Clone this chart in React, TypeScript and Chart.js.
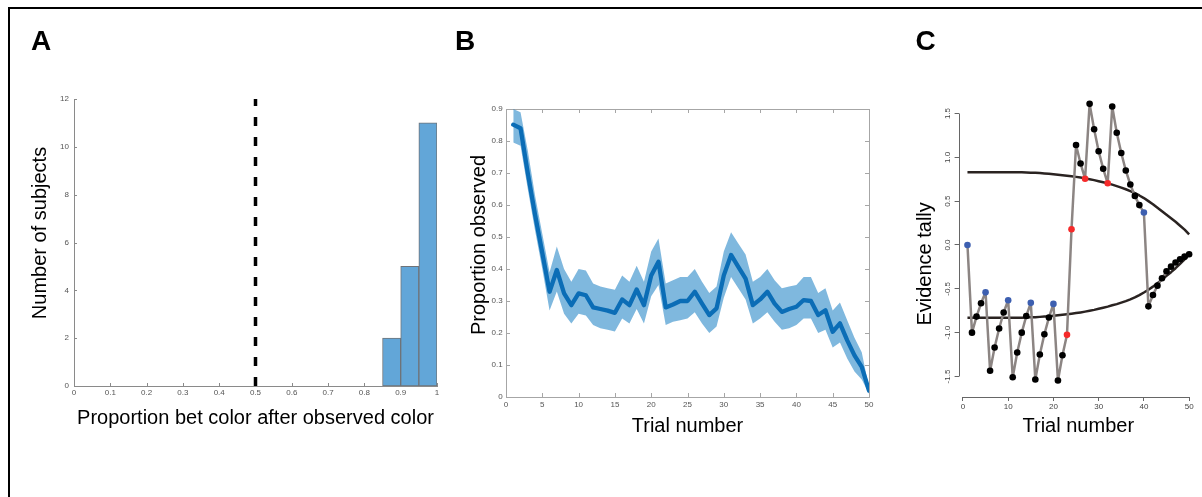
import React, { useEffect, useRef } from 'react';
import { Chart, registerables } from 'chart.js';

Chart.register(...registerables);

const FONT = '"Liberation Sans", Arial, Helvetica, sans-serif';

// ---------- Panel A: histogram ----------
const histBinEdges = [0.85, 0.9, 0.95, 1.0];
const histCounts = [2, 5, 11];
const chanceLevel = 0.5;
const chanceSpan = [0, 12];
const aXTicks = [0, 0.1, 0.2, 0.3, 0.4, 0.5, 0.6, 0.7, 0.8, 0.9, 1];
const aXTickLabels = ['0', '0.1', '0.2', '0.3', '0.4', '0.5', '0.6', '0.7', '0.8', '0.9', '1'];
const aYTicks = [0, 2, 4, 6, 8, 10, 12];
const aYTickLabels = ['0', '2', '4', '6', '8', '10', '12'];

// ---------- Panel B: proportion observed ----------
const trials = [
  1, 2, 3, 4, 5, 6, 7, 8, 9, 10, 11, 12, 13, 14, 15, 16, 17, 18, 19, 20, 21, 22, 23, 24, 25,
  26, 27, 28, 29, 30, 31, 32, 33, 34, 35, 36, 37, 38, 39, 40, 41, 42, 43, 44, 45, 46, 47, 48, 49, 50,
];
const propMean = [
  0.851, 0.84, 0.7, 0.57, 0.45, 0.329, 0.397, 0.324, 0.287, 0.324,
  0.318, 0.28, 0.275, 0.27, 0.263, 0.305, 0.287, 0.336, 0.287, 0.38,
  0.423, 0.28, 0.289, 0.3, 0.3, 0.329, 0.292, 0.256, 0.277, 0.38,
  0.444, 0.407, 0.37, 0.287, 0.305, 0.329, 0.292, 0.266, 0.275, 0.282,
  0.303, 0.3, 0.256, 0.271, 0.204, 0.23, 0.177, 0.13, 0.094, 0.02,
];
const propUpper = [
  0.9, 0.89, 0.77, 0.63, 0.51, 0.39, 0.47, 0.4, 0.36, 0.4,
  0.395, 0.355, 0.345, 0.34, 0.335, 0.38, 0.36, 0.41, 0.36, 0.455,
  0.495, 0.355, 0.365, 0.375, 0.375, 0.4, 0.36, 0.325, 0.345, 0.455,
  0.515, 0.48, 0.445, 0.36, 0.375, 0.4, 0.365, 0.34, 0.345, 0.35,
  0.375, 0.375, 0.325, 0.34, 0.27, 0.295, 0.24, 0.185, 0.14, 0.03,
];
const propLower = [
  0.795, 0.785, 0.65, 0.52, 0.4, 0.27, 0.33, 0.26, 0.23, 0.26,
  0.255, 0.225, 0.215, 0.21, 0.205, 0.245, 0.23, 0.275, 0.23, 0.315,
  0.35, 0.225, 0.235, 0.24, 0.245, 0.265, 0.23, 0.2, 0.22, 0.31,
  0.375, 0.34, 0.305, 0.23, 0.245, 0.265, 0.235, 0.21, 0.215, 0.225,
  0.245, 0.245, 0.2, 0.21, 0.155, 0.17, 0.12, 0.08, 0.055, 0.01,
];
const bXTicks = [0, 5, 10, 15, 20, 25, 30, 35, 40, 45, 50];
const bXTickLabels = ['0', '5', '10', '15', '20', '25', '30', '35', '40', '45', '50'];
const bYTicks = [0, 0.1, 0.2, 0.3, 0.4, 0.5, 0.6, 0.7, 0.8, 0.9];
const bYTickLabels = ['0', '0.1', '0.2', '0.3', '0.4', '0.5', '0.6', '0.7', '0.8', '0.9'];

// ---------- Panel C: evidence tally ----------
const tally = [
  0.0, -1.0, -0.817, -0.665, -0.54, -1.435, -1.17, -0.953, -0.77, -0.63,
  -1.508, -1.227, -1.0, -0.81, -0.66, -1.534, -1.25, -1.018, -0.828, -0.672,
  -1.546, -1.257, -1.025, 0.18, 1.14, 0.93, 0.755, 1.61, 1.32, 1.07,
  0.87, 0.704, 1.58, 1.28, 1.05, 0.85, 0.69, 0.56, 0.455, 0.37,
  -0.7, -0.57, -0.464, -0.38, -0.3, -0.247, -0.2, -0.163, -0.133, -0.106,
];
// b = blue, r = red, k = black
const tallyKind = [
  'b', 'k', 'k', 'k', 'b', 'k', 'k', 'k', 'k', 'b',
  'k', 'k', 'k', 'k', 'b', 'k', 'k', 'k', 'k', 'b',
  'k', 'k', 'r', 'r', 'k', 'k', 'r', 'k', 'k', 'k',
  'k', 'r', 'k', 'k', 'k', 'k', 'k', 'k', 'k', 'b',
  'k', 'k', 'k', 'k', 'k', 'k', 'k', 'k', 'k', 'k',
];
const boundUpper = [
  0.83, 0.83, 0.83, 0.83, 0.83, 0.83, 0.83, 0.83, 0.83, 0.83,
  0.83, 0.83, 0.829, 0.827, 0.825, 0.823, 0.82, 0.816, 0.812, 0.806,
  0.801, 0.796, 0.79, 0.784, 0.777, 0.769, 0.76, 0.75, 0.74, 0.728,
  0.716, 0.703, 0.688, 0.672, 0.655, 0.636, 0.615, 0.592, 0.565, 0.535,
  0.5, 0.465, 0.425, 0.385, 0.345, 0.305, 0.265, 0.22, 0.175, 0.12,
];
const boundLower = [
  -0.83, -0.83, -0.83, -0.83, -0.83, -0.83, -0.83, -0.83, -0.83, -0.83,
  -0.83, -0.83, -0.829, -0.827, -0.825, -0.823, -0.82, -0.816, -0.812, -0.806,
  -0.801, -0.796, -0.79, -0.784, -0.777, -0.769, -0.76, -0.75, -0.74, -0.728,
  -0.716, -0.703, -0.688, -0.675, -0.658, -0.64, -0.62, -0.598, -0.572, -0.542,
  -0.51, -0.475, -0.435, -0.395, -0.352, -0.31, -0.265, -0.215, -0.165, -0.11,
];
const cXTicks = [0, 10, 20, 30, 40, 50];
const cXTickLabels = ['0', '10', '20', '30', '40', '50'];
const cYTicks = [-1.5, -1, -0.5, 0, 0.5, 1, 1.5];
const cYTickLabels = ['-1.5', '-1.0', '-0.5', '0.0', '0.5', '1.0', '1.5'];

const kindColor: Record<string, string> = { b: '#3d5fb0', r: '#f52a2a', k: '#000000' };

// ---------- plugin for MATLAB / R style axis decorations ----------
const axisDecor = {
  id: 'axisDecor',
  beforeDatasetsDraw(chart: any, _args: any, o: any) {
    const { ctx, chartArea: a } = chart;
    const xs = chart.scales.x;
    const ys = chart.scales.y;
    const snap = (v: number) => Math.round(v) + 0.5;
    ctx.save();
    ctx.lineWidth = 1;
    ctx.strokeStyle = o.color || '#888';
    if (o.box) {
      const l = snap(a.left), t = snap(a.top), r = snap(a.right), b = snap(a.bottom);
      ctx.strokeRect(l, t, r - l, b - t);
    }
    if (o.inner) {
      const L = o.inner;
      ctx.beginPath();
      xs.ticks.forEach((tk: any) => {
        const px = snap(xs.getPixelForValue(tk.value));
        ctx.moveTo(px, a.bottom);
        ctx.lineTo(px, a.bottom - L);
        if (o.mirror) {
          ctx.moveTo(px, a.top);
          ctx.lineTo(px, a.top + L);
        }
      });
      ys.ticks.forEach((tk: any) => {
        const py = snap(ys.getPixelForValue(tk.value));
        ctx.moveTo(a.left, py);
        ctx.lineTo(a.left + L, py);
        if (o.mirror) {
          ctx.moveTo(a.right, py);
          ctx.lineTo(a.right - L, py);
        }
      });
      ctx.stroke();
    }
    if (o.rAxes) {
      const xt = xs.ticks;
      const yt = ys.ticks;
      const by = snap(a.bottom);
      const lx = snap(a.left);
      ctx.beginPath();
      ctx.moveTo(xs.getPixelForValue(xt[0].value), by);
      ctx.lineTo(xs.getPixelForValue(xt[xt.length - 1].value), by);
      ctx.moveTo(lx, ys.getPixelForValue(yt[0].value));
      ctx.lineTo(lx, ys.getPixelForValue(yt[yt.length - 1].value));
      ctx.stroke();
    }
    if (o.rotatedY) {
      ctx.fillStyle = o.labelColor;
      ctx.font = `${o.labelSize}px ${FONT}`;
      ctx.textAlign = 'center';
      ctx.textBaseline = 'middle';
      ys.ticks.forEach((tk: any, i: number) => {
        const py = ys.getPixelForValue(tk.value);
        ctx.save();
        ctx.translate(a.left - o.rotatedY, py);
        ctx.rotate(-Math.PI / 2);
        ctx.fillText(o.labels[i], 0, 0);
        ctx.restore();
      });
    }
    if (o.yTitle) {
      const t = o.yTitle;
      ctx.fillStyle = '#000';
      ctx.font = `20px ${FONT}`;
      ctx.textAlign = 'center';
      ctx.textBaseline = 'middle';
      ctx.save();
      ctx.translate(t.x, (a.top + a.bottom) / 2 + t.dy);
      ctx.rotate(-Math.PI / 2);
      ctx.fillText(t.text, 0, 0);
      ctx.restore();
    }
    ctx.restore();
  },
};

const tickFont = { size: 8, family: FONT };
const titleFont = { size: 20, family: FONT };

function setTicks(values: number[]) {
  return (scale: any) => {
    scale.ticks = values.map((v) => ({ value: v }));
  };
}

function configA(): any {
  const centers = histCounts.map((_, i) => (histBinEdges[i] + histBinEdges[i + 1]) / 2);
  return {
    type: 'bar',
    data: {
      datasets: [
        {
          type: 'line',
          data: [
            { x: chanceLevel, y: chanceSpan[0] },
            { x: chanceLevel, y: chanceSpan[1] },
          ],
          borderColor: '#000',
          borderWidth: 3.5,
          borderDash: [9, 11],
          pointRadius: 0,
          fill: false,
        },
        {
          type: 'bar',
          data: centers.map((c, i) => ({ x: c, y: histCounts[i] })),
          backgroundColor: '#62a6d8',
          borderColor: '#6f7378',
          borderWidth: 1,
          borderSkipped: false,
          barPercentage: 1,
          categoryPercentage: 1,
        },
      ],
    },
    options: {
      responsive: false,
      animation: false,
      layout: { padding: { left: 0, right: 8, top: 99, bottom: 0 } },
      plugins: {
        legend: { display: false },
        tooltip: { enabled: false },
        axisDecor: {
          color: '#8a8a8a',
          inner: 3,
          yTitle: { text: 'Number of subjects', x: 40.6, dy: -9.5 },
        },
      },
      scales: {
        x: {
          type: 'linear',
          min: 0,
          max: 1,
          offset: false,
          grid: { display: false, drawTicks: false },
          border: { display: true, color: '#8a8a8a', width: 1 },
          afterBuildTicks: setTicks(aXTicks),
          afterFit: (s: any) => {
            s.height = 111;
          },
          ticks: {
            autoSkip: false,
            maxRotation: 0,
            font: tickFont,
            color: '#555',
            padding: 2.2,
            callback: (_v: any, i: number) => aXTickLabels[i],
          },
          title: {
            display: true,
            text: 'Proportion bet color after observed color',
            font: titleFont,
            color: '#000',
            padding: { top: 0, bottom: 67 },
          },
        },
        y: {
          type: 'linear',
          min: 0,
          max: 12,
          grid: { display: false, drawTicks: false },
          border: { display: true, color: '#8a8a8a', width: 1 },
          afterBuildTicks: setTicks(aYTicks),
          afterFit: (s: any) => {
            s.width = 74;
          },
          ticks: {
            autoSkip: false,
            font: tickFont,
            color: '#555',
            padding: 5,
            callback: (_v: any, i: number) => aYTickLabels[i],
          },
          title: { display: false, text: 'Number of subjects' },
        },
      },
    },
    plugins: [axisDecor],
  };
}

function configB(): any {
  const pts = (arr: number[]) => trials.map((t, i) => ({ x: t, y: arr[i] }));
  return {
    type: 'line',
    data: {
      datasets: [
        {
          data: pts(propMean),
          borderColor: '#0b6db6',
          borderWidth: 4.3,
          borderJoinStyle: 'round',
          borderCapStyle: 'round',
          pointRadius: 0,
          fill: false,
        },
        {
          data: pts(propUpper),
          borderWidth: 0,
          borderColor: 'rgba(0,0,0,0)',
          backgroundColor: 'rgba(0,114,189,0.5)',
          pointRadius: 0,
          fill: '+1',
        },
        {
          data: pts(propLower),
          borderWidth: 0,
          borderColor: 'rgba(0,0,0,0)',
          pointRadius: 0,
          fill: false,
        },
      ],
    },
    options: {
      responsive: false,
      animation: false,
      layout: { padding: { left: 0, right: 21, top: 109, bottom: 0 } },
      plugins: {
        legend: { display: false },
        tooltip: { enabled: false },
        axisDecor: {
          color: '#a6a6a6',
          inner: 4,
          mirror: true,
          box: true,
          yTitle: { text: 'Proportion observed', x: 34.3, dy: -8 },
        },
      },
      scales: {
        x: {
          type: 'linear',
          min: 0,
          max: 50,
          grid: { display: false, drawTicks: false },
          border: { display: false },
          afterBuildTicks: setTicks(bXTicks),
          afterFit: (s: any) => {
            s.height = 100;
          },
          ticks: {
            autoSkip: false,
            maxRotation: 0,
            font: tickFont,
            color: '#555',
            padding: 2.5,
            callback: (_v: any, i: number) => bXTickLabels[i],
          },
          title: {
            display: true,
            text: 'Trial number',
            font: titleFont,
            color: '#000',
            padding: { top: 0, bottom: 58.4 },
          },
        },
        y: {
          type: 'linear',
          min: 0,
          max: 0.9,
          grid: { display: false, drawTicks: false },
          border: { display: false },
          afterBuildTicks: setTicks(bYTicks),
          afterFit: (s: any) => {
            s.width = 61;
          },
          ticks: {
            autoSkip: false,
            font: tickFont,
            color: '#555',
            padding: 3.3,
            callback: (_v: any, i: number) => bYTickLabels[i],
          },
          title: { display: false, text: 'Proportion observed' },
        },
      },
    },
    plugins: [axisDecor],
  };
}

function configC(): any {
  const pts = (arr: number[]) => trials.map((t, i) => ({ x: t, y: arr[i] }));
  const colors = tallyKind.map((k) => kindColor[k]);
  return {
    type: 'line',
    data: {
      datasets: [
        {
          data: pts(tally),
          borderColor: '#8c8583',
          borderWidth: 2.5,
          borderJoinStyle: 'round',
          borderCapStyle: 'round',
          pointRadius: 3.3,
          pointBorderWidth: 0,
          pointBackgroundColor: colors,
          pointBorderColor: colors,
          fill: false,
        },
        {
          data: pts(boundUpper),
          borderColor: '#2a2321',
          borderWidth: 2.5,
          borderJoinStyle: 'round',
          pointRadius: 0,
          fill: false,
        },
        {
          data: pts(boundLower),
          borderColor: '#2a2321',
          borderWidth: 2.5,
          borderJoinStyle: 'round',
          pointRadius: 0,
          fill: false,
        },
      ],
    },
    options: {
      responsive: false,
      animation: false,
      layout: { padding: { left: 0, right: 2.1, top: 92.8, bottom: 0 } },
      plugins: {
        legend: { display: false },
        tooltip: { enabled: false },
        axisDecor: {
          color: '#666',
          rAxes: true,
          rotatedY: 11,
          labelColor: '#444',
          labelSize: 8,
          labels: cYTickLabels,
          yTitle: { text: 'Evidence tally', x: 35.9, dy: 19 },
        },
      },
      scales: {
        x: {
          type: 'linear',
          min: -0.96,
          max: 51.96,
          grid: { display: true, drawOnChartArea: false, drawTicks: true, tickLength: 4, color: '#666' },
          border: { display: false },
          afterBuildTicks: setTicks(cXTicks),
          afterFit: (s: any) => {
            s.height = 100;
          },
          ticks: {
            autoSkip: false,
            maxRotation: 0,
            font: tickFont,
            color: '#444',
            padding: 1,
            callback: (_v: any, i: number) => cXTickLabels[i],
          },
          title: {
            display: true,
            text: 'Trial number',
            font: titleFont,
            color: '#000',
            padding: { top: 0, bottom: 58.4 },
          },
        },
        y: {
          type: 'linear',
          min: -1.734,
          max: 1.736,
          grid: { display: true, drawOnChartArea: false, drawTicks: true, tickLength: 4, color: '#666' },
          border: { display: false },
          afterBuildTicks: setTicks(cYTicks),
          afterFit: (s: any) => {
            s.width = 68.6;
          },
          ticks: { display: false },
          title: { display: false, text: 'Evidence tally' },
        },
      },
    },
    plugins: [axisDecor],
  };
}

const panelLabel = (left: number): React.CSSProperties => ({
  position: 'absolute',
  left,
  top: 27,
  fontFamily: FONT,
  fontWeight: 'bold',
  fontSize: 28,
  lineHeight: '28px',
  color: '#000',
});

export default function App() {
  const refA = useRef<HTMLCanvasElement>(null);
  const refB = useRef<HTMLCanvasElement>(null);
  const refC = useRef<HTMLCanvasElement>(null);

  useEffect(() => {
    const charts = [
      new Chart(refA.current as HTMLCanvasElement, configA()),
      new Chart(refB.current as HTMLCanvasElement, configB()),
      new Chart(refC.current as HTMLCanvasElement, configC()),
    ];
    return () => charts.forEach((c) => c.destroy());
  }, []);

  const canvasBox = (left: number, width: number): React.CSSProperties => ({
    position: 'absolute',
    left,
    top: 0,
    width,
    height: 497,
  });

  return (
    <div
      style={{
        position: 'fixed',
        left: 0,
        top: 0,
        width: 1202,
        height: 497,
        overflow: 'hidden',
        background: '#fff',
      }}
    >
      <div
        style={{
          position: 'absolute',
          left: 8,
          top: 7,
          right: -4,
          bottom: -4,
          borderTop: '2px solid #000',
          borderLeft: '2px solid #000',
        }}
      />
      <div style={canvasBox(0, 445)}>
        <canvas ref={refA} width={445} height={497} style={{ width: 445, height: 497, display: 'block' }} />
      </div>
      <div style={canvasBox(445, 445)}>
        <canvas ref={refB} width={445} height={497} style={{ width: 445, height: 497, display: 'block' }} />
      </div>
      <div style={canvasBox(890, 312)}>
        <canvas ref={refC} width={312} height={497} style={{ width: 312, height: 497, display: 'block' }} />
      </div>
      <div style={panelLabel(31)}>A</div>
      <div style={panelLabel(455)}>B</div>
      <div style={panelLabel(915.5)}>C</div>
    </div>
  );
}
